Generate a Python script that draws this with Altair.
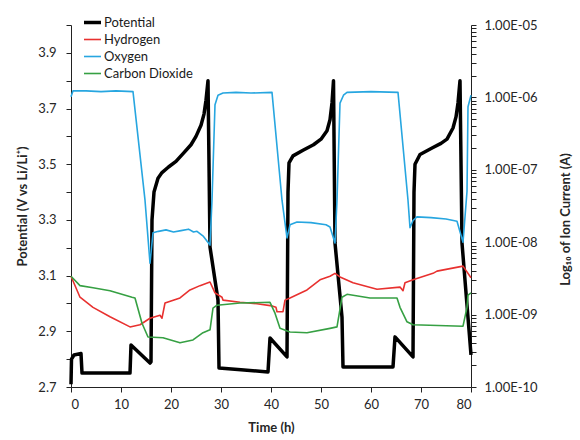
import altair as alt
import pandas as pd

# ---------------- data ----------------
series_names = ["Potential", "Hydrogen", "Oxygen", "Carbon Dioxide"]
series_colors = ["#000000", "#e8312f", "#27a6e0", "#36a043"]
series_widths = [3.5, 1.6, 1.6, 1.6]

# Potential (V vs Li/Li+)
pot_t = [0.0, 0.1, 0.6, 2.0, 2.2, 11.8, 12.0, 15.8, 16.0, 16.2, 16.6, 17.4, 18.2, 19.5,
         21.0, 22.5, 24.0, 25.0, 26.0, 26.6, 27.0, 27.4, 27.8, 29.4, 29.6, 34.0, 39.4,
         39.8, 43.2, 43.4, 43.6, 44.4, 46.4, 48.5, 50.0, 51.2, 51.8, 52.2, 52.5, 52.8,
         54.2, 54.4, 64.4, 64.8, 68.4, 68.6, 68.8, 69.8, 72.4, 74.0, 75.2, 76.4, 77.0,
         77.4, 77.8, 78.2, 79.6, 80.0]
pot_v = [2.71, 2.80, 2.815, 2.82, 2.75, 2.75, 2.851, 2.786, 2.79, 3.30, 3.40, 3.45, 3.47, 3.49,
         3.51, 3.54, 3.57, 3.60, 3.64, 3.68, 3.73, 3.80, 3.203, 3.012, 2.768, 2.762, 2.754,
         2.876, 2.808, 3.40, 3.505, 3.53, 3.55, 3.57, 3.59, 3.62, 3.66, 3.72, 3.80, 3.217,
         2.951, 2.772, 2.772, 2.88, 2.808, 3.40, 3.50, 3.535, 3.56, 3.575, 3.59, 3.63, 3.67,
         3.72, 3.80, 3.217, 2.905, 2.815]

# Ion currents, stored as log10 of current (A)
h2_t = [0.0, 1.8, 4.4, 7.8, 11.8, 13.8, 15.8, 17.8, 18.2, 18.8, 21.8, 23.8, 25.8, 27.8,
        28.8, 30.2, 30.4, 33.8, 37.2, 40.2, 41.0, 41.2, 42.4, 42.8, 43.8, 47.2, 49.8,
        51.8, 52.8, 53.8, 56.4, 61.2, 65.8, 66.4, 66.8, 68.4, 72.4, 73.2, 78.4, 80.0]
h2_log = [-8.47, -8.76, -8.90, -9.03, -9.17, -9.14, -9.05, -9.01, -9.05, -8.84, -8.77, -8.66,
          -8.60, -8.55, -8.70, -8.76, -8.80, -8.83, -8.85, -8.88, -8.90, -8.96, -8.96, -8.80,
          -8.77, -8.66, -8.52, -8.47, -8.43, -8.48, -8.56, -8.65, -8.62, -8.67, -8.56, -8.52,
          -8.43, -8.40, -8.33, -8.49]

o2_t = [0.0, 0.4, 3.0, 6.0, 9.0, 12.4, 14.8, 15.8, 16.4, 17.5, 19.0, 20.5, 22.0, 23.5,
        24.5, 25.2, 26.5, 27.8, 28.2, 28.8, 29.4, 30.4, 33.0, 36.0, 40.2, 42.2, 43.2,
        43.8, 45.2, 48.0, 51.0, 51.8, 52.8, 53.2, 53.8, 54.5, 55.2, 60.0, 65.4, 67.4,
        67.8, 68.4, 69.2, 72.0, 75.0, 77.2, 78.4, 79.2, 79.4, 80.0]
o2_log = [-5.99, -5.91, -5.91, -5.92, -5.91, -5.92, -7.42, -8.29, -7.87, -7.85, -7.83, -7.86,
          -7.84, -7.82, -7.86, -7.85, -7.92, -8.04, -7.42, -6.10, -5.97, -5.94, -5.93, -5.94,
          -5.93, -7.42, -7.94, -7.76, -7.72, -7.73, -7.76, -7.79, -8.01, -7.42, -6.08, -5.97,
          -5.93, -5.92, -5.93, -7.42, -7.80, -7.70, -7.65, -7.66, -7.68, -7.71, -8.00, -7.30,
          -6.13, -5.97]

co2_t = [0.0, 1.8, 4.4, 7.8, 12.2, 12.8, 14.2, 15.4, 18.4, 21.8, 24.4, 26.4, 27.8, 28.4,
         29.2, 33.8, 39.8, 40.8, 41.8, 43.8, 47.2, 51.8, 53.2, 54.2, 55.2, 59.8, 65.2,
         65.8, 67.2, 68.4, 78.4, 79.2, 79.4, 80.0]
co2_log = [-8.47, -8.60, -8.63, -8.67, -8.76, -8.77, -9.12, -9.31, -9.32, -9.39, -9.35, -9.25,
           -9.21, -8.91, -8.87, -8.84, -8.83, -8.98, -9.19, -9.24, -9.25, -9.19, -9.17, -8.76,
           -8.72, -8.77, -8.77, -8.90, -9.10, -9.14, -9.16, -8.90, -8.73, -8.70]

x_ticks = [0, 10, 20, 30, 40, 50, 60, 70, 80]
left_ticks = [2.7, 2.8, 2.9, 3.0, 3.1, 3.2, 3.3, 3.4, 3.5, 3.6, 3.7, 3.8, 3.9, 4.0]
left_labels = ["2.7", "2.9", "3.1", "3.3", "3.5", "3.7", "3.9"]
decades = [-10, -9, -8, -7, -6, -5]
minor_mult = [1, 2, 3, 4, 5, 6, 7, 8, 9]

# ---------------- tables ----------------
df_pot = pd.DataFrame({"t": pot_t, "value": pot_v, "series": "Potential"})
df_pot["i"] = range(len(df_pot))

frames = []
for name, tt, ll in [("Hydrogen", h2_t, h2_log), ("Oxygen", o2_t, o2_log),
                     ("Carbon Dioxide", co2_t, co2_log)]:
    d = pd.DataFrame({"t": tt, "current": [10.0 ** v for v in ll], "series": name})
    d["i"] = range(len(d))
    frames.append(d)
df_ion = pd.concat(frames, ignore_index=True)

right_ticks = []
for k in decades:
    for m in minor_mult:
        v = m * 10.0 ** k
        if v <= 1.0001e-5:
            right_ticks.append(v)

FONT = "Lato"
TXT = "#262626"

color_scale = alt.Scale(domain=series_names, range=series_colors)
width_scale = alt.Scale(type="ordinal", domain=series_names, range=series_widths)

x_enc = alt.X("t:Q", title="Time (h)",
              scale=alt.Scale(domain=[0, 80], nice=False, zero=False),
              axis=alt.Axis(values=x_ticks, format="d", grid=False, tickSize=5,
                            labelPadding=6, titlePadding=10))

legend = alt.Legend(
    title=None, orient="none", legendX=11, legendY=-13, padding=0,
    symbolType="stroke", symbolSize=289,
    labelFont=FONT, labelFontSize=13, labelColor="#1a1a1a", labelOffset=1,
    rowPadding=0, labelLimit=200,
)

pot_layer = alt.Chart(df_pot).mark_line(strokeJoin="round").encode(
    x=x_enc,
    y=alt.Y("value:Q", title="Potential (V vs Li/Li⁺)",
            scale=alt.Scale(domain=[2.7, 4.0], nice=False, zero=False),
            axis=alt.Axis(orient="left", values=left_ticks, grid=False, tickSize=5,
                          labelPadding=10, titlePadding=8,
                          labelExpr="indexof(" + str(left_labels).replace('"', "'") +
                                    ", format(datum.value, '.1f')) >= 0 ? format(datum.value, '.1f') : ''")),
    color=alt.Color("series:N", scale=color_scale, legend=legend),
    strokeWidth=alt.StrokeWidth("series:N", scale=width_scale, legend=legend),
    order="i:Q",
)

ion_layer = alt.Chart(df_ion).mark_line(strokeJoin="round").encode(
    x=x_enc,
    y=alt.Y("current:Q", title="Log₁₀ of Ion Current (A)",
            scale=alt.Scale(type="log", domain=[1e-10, 1e-5], nice=False),
            axis=alt.Axis(orient="right", values=right_ticks, grid=False, tickSize=5,
                          labelPadding=8, titleAngle=270, titleX=94, titleY=194,
                          titleBaseline="middle", titleAlign="center",
                          labelExpr="abs(datum.value / pow(10, round(log(datum.value) / LN10)) - 1) < 1e-6 ? "
                                    "'1.00E-' + (abs(round(log(datum.value) / LN10)) < 10 ? '0' : '') + "
                                    "abs(round(log(datum.value) / LN10)) : ''")),
    color=alt.Color("series:N", scale=color_scale, legend=legend),
    strokeWidth=alt.StrokeWidth("series:N", scale=width_scale, legend=legend),
    order="i:Q",
)

chart = alt.layer(pot_layer, ion_layer).resolve_scale(y="independent").properties(
    width=400, height=362,
    autosize=alt.AutoSizeParams(type="none"),
    padding={"left": 71, "top": 25, "right": 109, "bottom": 53},
    background="white",
).configure_view(stroke=None).configure_axis(
    domainColor="#222222", tickColor="#222222", domainWidth=1, tickWidth=1,
    labelFont=FONT, labelFontSize=13, labelColor=TXT,
    titleFont=FONT, titleFontSize=13, titleFontWeight="bold", titleColor=TXT,
)

chart.save("out.html", embed_options={"renderer": "svg", "actions": False})
